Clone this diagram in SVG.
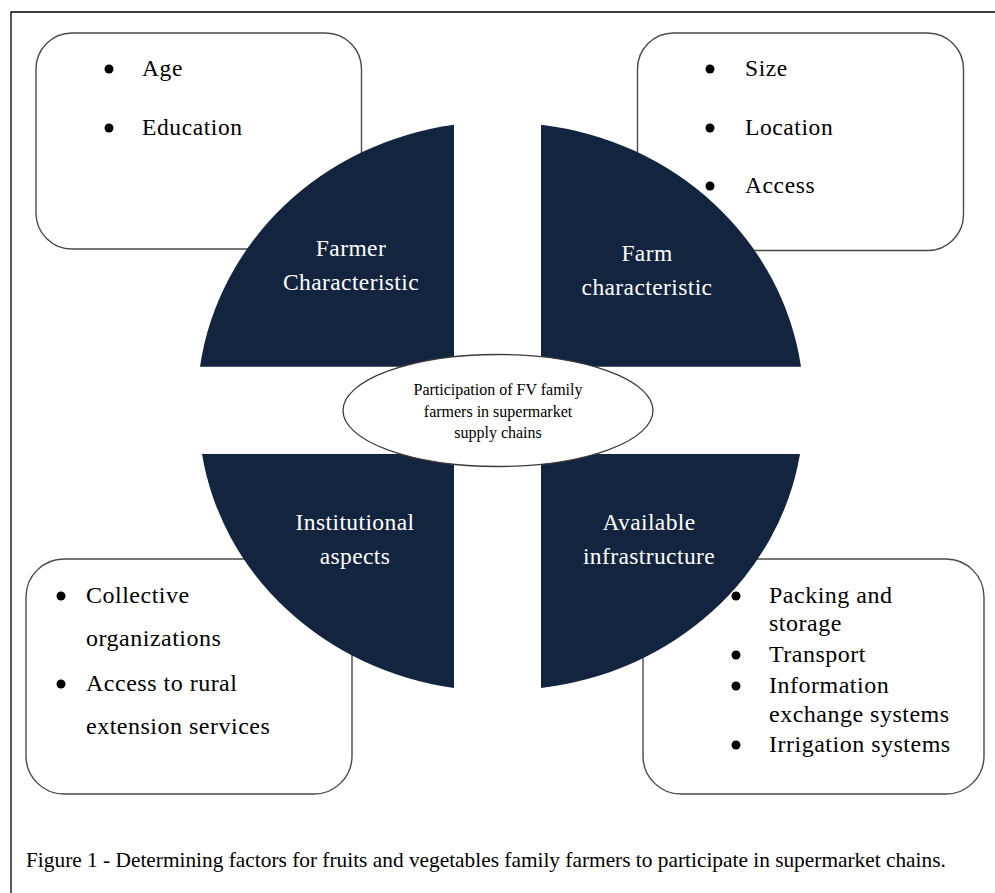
<svg xmlns="http://www.w3.org/2000/svg" width="995" height="893" viewBox="0 0 995 893">
  <style>
    text { font-family: "Liberation Serif", "Times New Roman", serif; }
    .box { fill: #ffffff; stroke: #4a4a4a; stroke-width: 1.4; }
    .quarter { fill: #13243f; }
    .item { font-size: 23.5px; fill: #000000; letter-spacing: 0.6px; }
    .big { font-size: 24px; letter-spacing: 0.5px; }
    .label { font-size: 23.5px; fill: #ffffff; text-anchor: middle; letter-spacing: 0.4px; }
    .core { font-size: 16px; fill: #000000; text-anchor: middle; }
    .caption { font-size: 21.35px; fill: #000000; }
    .bullet { fill: #000000; }
  </style>
  <rect width="995" height="893" fill="#ffffff"/>
  <!-- frame -->
  <path d="M11,893 V12 H995" fill="none" stroke="#000000" stroke-width="1.3"/>

  <!-- factor boxes (behind the circle) -->
  <g id="box-farmer">
    <rect class="box" x="36" y="33" width="325.5" height="216" rx="36"/>
    <circle class="bullet" cx="109" cy="69" r="4.5"/>
    <text class="item" x="142" y="76">Age</text>
    <circle class="bullet" cx="109" cy="128" r="4.5"/>
    <text class="item" x="142" y="135">Education</text>
  </g>
  <g id="box-farm">
    <rect class="box" x="637.5" y="33" width="326" height="217.5" rx="36"/>
    <circle class="bullet" cx="710" cy="69" r="4.5"/>
    <text class="item" x="745" y="76">Size</text>
    <circle class="bullet" cx="710" cy="128" r="4.5"/>
    <text class="item" x="745" y="135">Location</text>
    <circle class="bullet" cx="710" cy="186" r="4.5"/>
    <text class="item" x="745" y="193">Access</text>
  </g>
  <g id="box-institutional">
    <rect class="box" x="26" y="559" width="326" height="235" rx="38"/>
    <circle class="bullet" cx="61" cy="596" r="4.5"/>
    <text class="item big" x="86" y="603">Collective</text>
    <text class="item big" x="86" y="646">organizations</text>
    <circle class="bullet" cx="61" cy="684" r="4.5"/>
    <text class="item big" x="86" y="691">Access to rural</text>
    <text class="item big" x="86" y="734">extension services</text>
  </g>
  <g id="box-infrastructure">
    <rect class="box" x="643" y="559" width="341" height="235" rx="38"/>
    <circle class="bullet" cx="736" cy="596" r="4.5"/>
    <text class="item big" x="769" y="603">Packing and</text>
    <text class="item big" x="769" y="631">storage</text>
    <circle class="bullet" cx="736" cy="655" r="4.5"/>
    <text class="item big" x="769" y="662">Transport</text>
    <circle class="bullet" cx="736" cy="686" r="4.5"/>
    <text class="item big" x="769" y="693">Information</text>
    <text class="item big" x="769" y="722">exchange systems</text>
    <circle class="bullet" cx="736" cy="745" r="4.5"/>
    <text class="item big" x="769" y="752">Irrigation systems</text>
  </g>

  <!-- four quarters of the circle -->
  <g id="q-farmer">
    <path class="quarter" d="M454,124.7 V366.7 H200 A300 284 0 0 1 454,124.7 Z"/>
    <text class="label" x="351" y="256">Farmer</text>
    <text class="label" x="351" y="290">Characteristic</text>
  </g>
  <g id="q-farm">
    <path class="quarter" d="M541,124.7 A300 284 0 0 1 801,366.7 H541 Z"/>
    <text class="label" x="647" y="261">Farm</text>
    <text class="label" x="647" y="295">characteristic</text>
  </g>
  <g id="q-institutional">
    <path class="quarter" d="M454,688 A300 280 0 0 1 202,454 H454 Z"/>
    <text class="label" x="355" y="530">Institutional</text>
    <text class="label" x="355" y="564">aspects</text>
  </g>
  <g id="q-infrastructure">
    <path class="quarter" d="M541,454 H800 A300 280 0 0 1 541,688 Z"/>
    <text class="label" x="649" y="530">Available</text>
    <text class="label" x="649" y="564">infrastructure</text>
  </g>

  <!-- centre -->
  <g id="centre">
    <ellipse cx="498" cy="410.5" rx="155" ry="56" fill="#ffffff" stroke="#3a3a3a" stroke-width="1.3"/>
    <text class="core" x="498" y="395">Participation of FV family</text>
    <text class="core" x="498" y="416.5">farmers in supermarket</text>
    <text class="core" x="498" y="437.5">supply chains</text>
  </g>

  <g id="connectors"/>

  <text class="caption" x="26" y="867">Figure 1 - Determining factors for fruits and vegetables family farmers to participate in supermarket chains.</text>
</svg>
